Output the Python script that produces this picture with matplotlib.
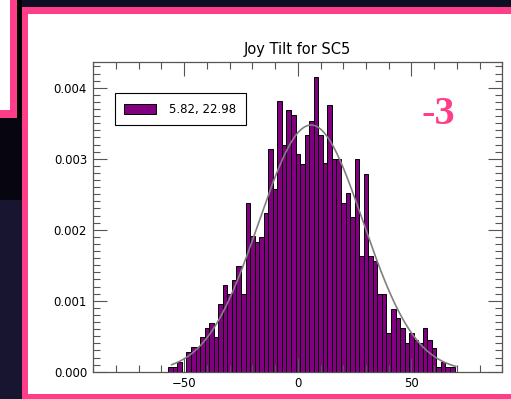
import numpy as np
import matplotlib
matplotlib.use("Agg")
import matplotlib.pyplot as plt
from matplotlib.patches import Rectangle
from matplotlib.ticker import MultipleLocator, FormatStrFormatter

# ---- data ----
bin_start = -57.0
bin_width = 2.0
heights = [
    0.00007, 0.00007, 0.000132, 0.0, 0.000273, 0.000344, 0.000344, 0.000485, 0.000611, 0.000682,
    0.000485, 0.00096, 0.001225, 0.00109, 0.00129, 0.00149, 0.00109, 0.00238, 0.00191, 0.00183,
    0.0019, 0.00224, 0.00313, 0.00258, 0.00381, 0.00319, 0.00368, 0.00361, 0.00306, 0.00292,
    0.00333, 0.00353, 0.00415, 0.00333, 0.00294, 0.00375, 0.00299, 0.00299, 0.00238, 0.00252,
    0.00218, 0.00299, 0.00163, 0.00279, 0.00163, 0.00156, 0.00109, 0.00109, 0.00055, 0.00088,
    0.00075, 0.00061, 0.00040, 0.00055, 0.00045, 0.00040, 0.00062, 0.00045, 0.00033, 0.000066,
    0.00013, 0.000066, 0.000066,
]
fit_mean = 5.82
fit_sigma = 22.98
legend_label = "5.82, 22.98"
title = "Joy Tilt for SC5"
badge = "-3"
xticks_major = [-50, 0, 50]

PINK = "#FF3E8A"
NAVY = "#17152f"

fig = plt.figure(figsize=(5.11, 3.99), dpi=100)
W, H = 511, 399

# ---- screenshot background ----
bg = fig.add_axes([0, 0, 1, 1])
bg.set_xlim(0, W)
bg.set_ylim(H, 0)
bg.axis("off")
def rect(x0, y0, x1, y1, c):
    bg.add_patch(Rectangle((x0, y0), x1 - x0, y1 - y0, facecolor=c, edgecolor="none", lw=0))
rect(0, 0, W, H, NAVY)
rect(22, 0, W, 7, "#0e0d24")
rect(0, 0, 10, 110, "white")
rect(10, 0, 17, 118, PINK)
rect(0, 110, 17, 118, PINK)
rect(17, 0, 22, 118, "black")
rect(0, 118, 22, 200, "#060510")
rect(21.7, 6.7, W, H, PINK)
rect(28.3, 14, W, 394, "white")

# ---- main chart ----
ax = fig.add_axes([93.3 / W, (H - 371.7) / H, 409 / W, 309.4 / H])
ax.set_facecolor("white")
edges = bin_start + bin_width * np.arange(len(heights) + 1)
ax.bar(edges[:-1], heights, width=bin_width, align="edge", color="#800080",
       edgecolor="black", linewidth=0.7, label=legend_label, zorder=1)

area = np.sum(heights) * bin_width
xs = np.linspace(edges[0] + 1.5, edges[-1] + 0.5, 300)
ys = area / (fit_sigma * np.sqrt(2 * np.pi)) * np.exp(-0.5 * ((xs - fit_mean) / fit_sigma) ** 2)
ax.plot(xs, ys, color="#808080", lw=1.2, zorder=2)

ax.set_xlim(-90, 90)
ax.set_ylim(0, 0.004358)
ax.set_xticks(xticks_major)
ax.xaxis.set_minor_locator(MultipleLocator(10))
ax.yaxis.set_major_locator(MultipleLocator(0.001))
ax.yaxis.set_minor_locator(MultipleLocator(0.0001))
ax.yaxis.set_major_formatter(FormatStrFormatter("%.3f"))
ax.tick_params(which="both", direction="in", top=True, right=True, color="#555555",
               width=0.8, labelsize=8.5, labelcolor="black")
ax.tick_params(which="major", length=10)
ax.tick_params(which="minor", length=5)
ax.tick_params(axis="x", pad=4)
ax.tick_params(axis="y", pad=4.5)
for s in ax.spines.values():
    s.set_color("#555555")
    s.set_linewidth(0.9)
ax.set_title(title, fontsize=10.5, pad=6)

leg = ax.legend(loc="upper left", bbox_to_anchor=(0.053, 0.9), borderaxespad=0,
                fancybox=False, edgecolor="black", framealpha=1, fontsize=8.5,
                handlelength=2.7, handleheight=0.9, handletextpad=1.1, borderpad=0.8)
leg.get_frame().set_linewidth(0.8)

fig.text(438 / W, 1 - 114 / H, badge, color=PINK, fontsize=29, fontweight="bold",
         family="Liberation Serif", ha="center", va="center")

fig.savefig("out.png", dpi=100)
